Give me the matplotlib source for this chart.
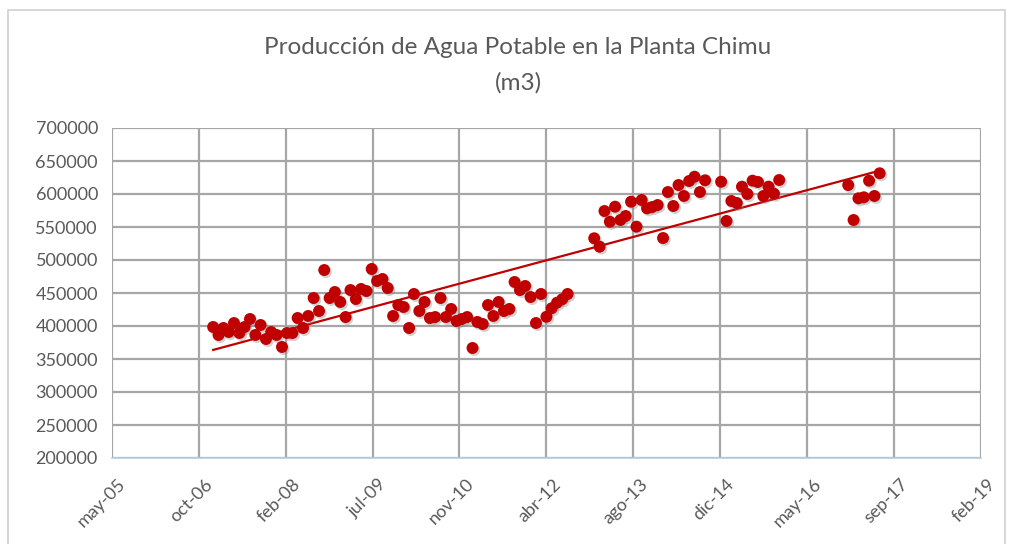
import numpy as np
import pandas as pd
import matplotlib
matplotlib.use('Agg')
import matplotlib.pyplot as plt
import matplotlib.dates as mdates
from matplotlib import patheffects
from matplotlib.patches import Rectangle
from matplotlib.transforms import ScaledTranslation

# produccion mensual (m3), por tramos continuos
prod_2007 = [398500, 386400, 397000, 390900, 404500, 389400, 398500, 410600, 386400, 401500,
             380300, 390900, 386400, 368200, 389400, 389400, 412100, 397000, 415200, 442400,
             422700, 484800, 442400, 451500, 436400, 413600, 454500, 440900, 456100, 453000,
             486400, 468200, 471200, 457600, 415200, 431800, 428800, 397000, 448500, 422700,
             436400, 412100, 413600, 442400, 413600, 425800, 407600, 410600, 413600, 366700,
             406100, 403000, 431800, 415200, 436400, 422700, 425800, 466700, 454500, 460600,
             443900, 404500, 448500, 414000, 426800, 435300, 440500, 448500]
prod_2013 = [532900, 520200, 574200, 558000, 580800, 560600, 566700, 588300, 550500, 590900,
             578300, 580300, 583300, 533300, 603000, 581800, 613600, 597000, 619700, 626200,
             603000, 620800]
prod_2015 = [618600, 559100, 589400, 586400, 611100, 600000, 620200, 618200, 597000, 611100,
             600500, 621200]
prod_2017 = [613600, 560600, 593500, 595000, 620200, 597000, 631400]

inicio = ['2007-01-01', '2013-01-01', '2015-01-01', '2017-01-01']
tramos = [prod_2007, prod_2013, prod_2015, prod_2017]

tick_labels = ['may-05', 'oct-06', 'feb-08', 'jul-09', 'nov-10', 'abr-12',
               'ago-13', 'dic-14', 'may-16', 'sep-17', 'feb-19']

fechas = []
valores = []
for ini, vals in zip(inicio, tramos):
    fechas.extend(pd.date_range(ini, periods=len(vals), freq='MS'))
    valores.extend(vals)
x = mdates.date2num(fechas)
y = np.array(valores)

# eje x como en excel: unidad mayor de 500 dias
ticks = mdates.date2num(pd.date_range('2005-05-28', periods=len(tick_labels), freq='500D'))

plt.rcParams['font.family'] = ['Lato', 'DejaVu Sans']

fig = plt.figure(figsize=(10.13, 5.44), dpi=100)
ax = fig.add_axes([111.8/1013, 86/544, (981-111.8)/1013, 330/544])

gris = '#595959'
rejilla = '#a6a6a6'

ax.scatter(x, y, s=74, color='#c00000', edgecolors='none', zorder=3,
           path_effects=[patheffects.SimplePatchShadow(offset=(1.2, -1.5), shadow_rgbFace='#808080', alpha=0.35),
                         patheffects.Normal()])

# linea de tendencia lineal
a, b = np.polyfit(x, y, 1)
xt = np.array([x.min(), x.max()])
ax.plot(xt, a*xt + b, color='#c00000', lw=1.6, zorder=2)

ax.set_xlim(ticks[0], ticks[-1])
ax.set_ylim(200000, 700000)
ax.set_xticks(ticks)
ax.set_xticklabels(tick_labels, rotation=45, ha='right', va='top', rotation_mode='anchor')
ax.set_yticks(np.arange(200000, 700001, 50000))
ax.yaxis.set_major_formatter(matplotlib.ticker.FuncFormatter(lambda v, p: f'{int(v)}'))

ax.grid(True, color=rejilla, lw=1.6)
ax.set_axisbelow(True)
for s in ['top', 'right', 'left']:
    ax.spines[s].set_visible(False)
ax.spines['bottom'].set_color('#b9cbe3')
ax.spines['bottom'].set_linewidth(1.2)
ax.tick_params(axis='both', length=0, labelsize=13, colors=gris)
ax.tick_params(axis='y', pad=10)
ax.tick_params(axis='x', pad=13)
desplaza = ScaledTranslation(6/100, 0, fig.dpi_scale_trans)
for lab in ax.get_xticklabels():
    lab.set_transform(lab.get_transform() + desplaza)

fig.text(518/1013, 1 - 47/544, 'Producción de Agua Potable en la Planta Chimu',
         ha='center', va='center', fontsize=17.5, color=gris)
fig.text(518/1013, 1 - 83/544, '(m3)', ha='center', va='center', fontsize=17.5, color=gris)

fig.patches.append(Rectangle((8/1013, -0.1), 997/1013, 1.1 - 10/544, transform=fig.transFigure,
                             fill=False, ec='#d0d0d0', lw=1.2))

fig.savefig('out.png', dpi=100)
